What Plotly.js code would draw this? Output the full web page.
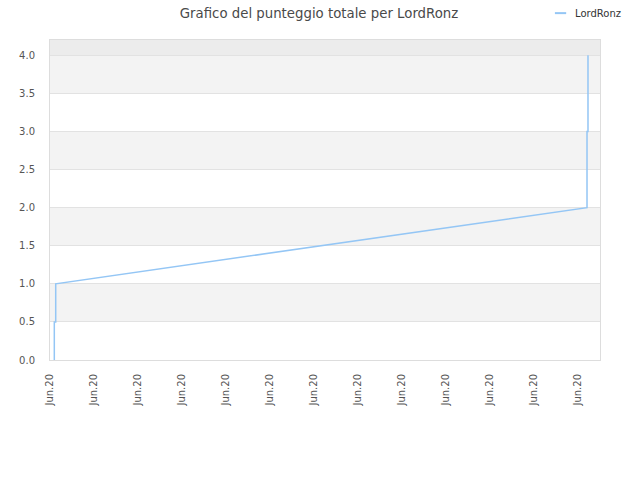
<!DOCTYPE html>
<html>
<head>
<meta charset="utf-8">
<script src="https://cdn.plot.ly/plotly-3.0.1.min.js"></script>
<style>html,body{margin:0;padding:0;background:#fff}#chart{width:640px;height:480px}</style>
</head>
<body>
<div id="chart"></div>
<script>
var seriesName = "LordRonz";
var chartTitle = "Grafico del punteggio totale per LordRonz";
var times = ["2020-06-01 02:21", "2020-06-01 02:21", "2020-06-01 03:07", "2020-06-01 03:07",
             "2020-06-13 04:55", "2020-06-13 04:55", "2020-06-13 05:27", "2020-06-13 05:27"];
var scores = [0, 0.5, 0.5, 1.0, 2.0, 3.0, 3.0, 4.0];
var xRange = ["2020-06-01 00:00", "2020-06-13 12:00"];
var yRange = [0, 4.2];
var yStep = 0.5;

var lineColor = "#94c6f5";
var shapes = [];
// alternating background bands
for (var b = yStep; b < yRange[1]; b += 2 * yStep) {
  shapes.push({type: "rect", xref: "paper", yref: "y", x0: 0, x1: 1, y0: b, y1: Math.min(b + yStep, yRange[1]),
    fillcolor: "#f3f3f3", line: {width: 0}, layer: "below"});
}
shapes.push({type: "rect", xref: "paper", yref: "y", x0: 0, x1: 1, y0: 4.0, y1: yRange[1],
  fillcolor: "#ececec", line: {width: 0}, layer: "below"});
// legend sample
shapes.push({type: "line", xref: "paper", yref: "paper", x0: 0.918, x1: 0.9385, y0: 1.084, y1: 1.084,
  line: {color: lineColor, width: 2}});

var trace = {
  x: times, y: scores, type: "scatter", mode: "lines", name: seriesName,
  line: {color: lineColor, width: 1.5}, showlegend: false
};

var layout = {
  width: 640, height: 480,
  margin: {l: 50, r: 40, t: 40, b: 120},
  paper_bgcolor: "#ffffff", plot_bgcolor: "#ffffff",
  font: {family: "DejaVu Sans, sans-serif", size: 10, color: "#555"},
  title: {text: chartTitle, x: 0.4985, xref: "container", y: 0.973, yanchor: "middle",
    font: {family: "DejaVu Sans, sans-serif", size: 13.3, color: "#4a4a4a"}},
  xaxis: {type: "date", range: xRange, dtick: 86400000, tick0: "2020-06-01", tickformat: "%b.%y",
    tickangle: -90, showgrid: false, zeroline: false, showline: true, linecolor: "#dddddd", mirror: true,
    ticks: "", ticklabelstandoff: 9, tickfont: {size: 10, color: "#555"}},
  yaxis: {range: yRange, dtick: yStep, tick0: 0, tickformat: ".1f", showgrid: true, gridcolor: "#e2e2e2",
    zeroline: false, showline: true, linecolor: "#dddddd", mirror: true, ticks: "", ticklabelstandoff: 12,
    tickfont: {size: 10, color: "#555"}},
  shapes: shapes,
  annotations: [{xref: "paper", yref: "paper", x: 0.951, y: 1.084, xanchor: "left", yanchor: "middle",
    text: seriesName, showarrow: false, font: {family: "DejaVu Sans, sans-serif", size: 10, color: "#333"}}],
  showlegend: false
};

Plotly.newPlot("chart", [trace], layout, {displayModeBar: false, staticPlot: true});
</script>
</body>
</html>
